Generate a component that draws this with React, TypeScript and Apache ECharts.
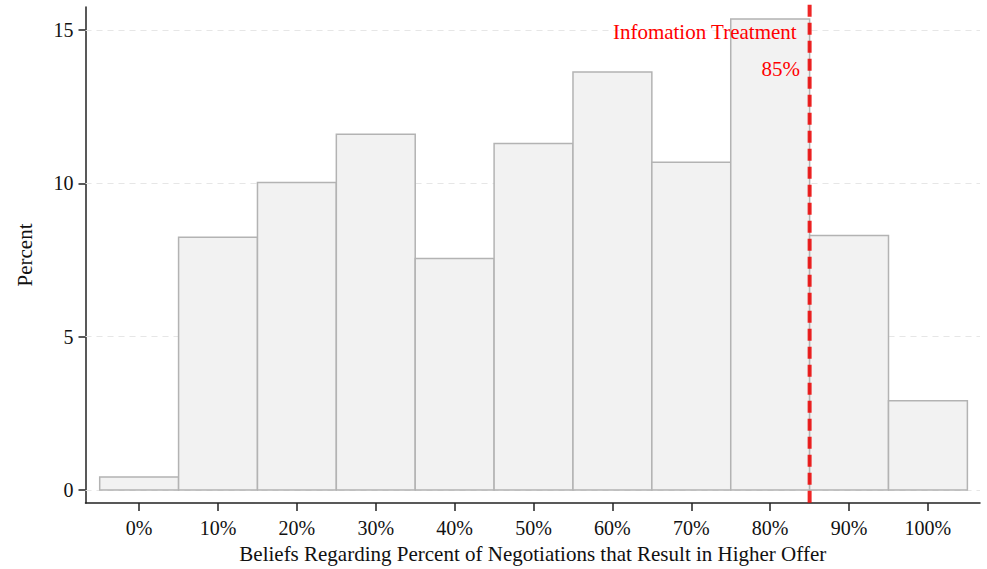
import React, { useEffect, useRef } from "react";
import * as echarts from "echarts";

const categories = [0, 10, 20, 30, 40, 50, 60, 70, 80, 90, 100];
const percents = [0.42, 8.24, 10.03, 11.6, 7.55, 11.3, 13.63, 10.69, 15.36, 8.3, 2.91];
const yTicks = [0, 5, 10, 15];
const treatmentValue = 85;
const treatmentLabel = "Infomation Treatment";
const treatmentValueLabel = "85%";
const binHalfWidth = 5;

const FONT = "Liberation Serif";

export default function App() {
  const ref = useRef<HTMLDivElement>(null);
  useEffect(() => {
    if (!ref.current) return;
    const chart = echarts.init(ref.current, undefined, { renderer: "svg" });
    const data = categories.map((c, i) => [c, percents[i]]);
    chart.setOption({
      animation: false,
      textStyle: { fontFamily: FONT },
      grid: { left: 85.5, right: 7, top: 7, bottom: 66, containLabel: false },
      xAxis: {
        type: "value",
        min: -6.8,
        max: 106.6,
        name: "Beliefs Regarding Percent of Negotiations that Result in Higher Offer",
        nameLocation: "middle",
        nameGap: 40,
        nameTextStyle: { fontFamily: FONT, fontSize: 21, color: "#111", verticalAlign: "top" },
        axisLine: { show: true, onZero: false, lineStyle: { color: "#222", width: 1.5 } },
        axisTick: { show: true, length: 8, customValues: categories, lineStyle: { color: "#222", width: 1.5 } },
        axisLabel: {
          customValues: categories,
          formatter: (v: number) => `${v}%`,
          fontFamily: FONT,
          fontSize: 20,
          color: "#111",
          margin: 15,
        },
        splitLine: { show: false },
      },
      yAxis: {
        type: "value",
        min: -0.425,
        max: 15.75,
        name: "Percent",
        nameLocation: "middle",
        nameGap: 50,
        nameTextStyle: { fontFamily: FONT, fontSize: 21, color: "#111" },
        axisLine: { show: true, onZero: false, lineStyle: { color: "#222", width: 1.5 } },
        axisTick: { show: true, length: 7, customValues: yTicks, lineStyle: { color: "#222", width: 1.5 } },
        axisLabel: {
          customValues: yTicks,
          fontFamily: FONT,
          fontSize: 20,
          color: "#111",
          margin: 12,
        },
        splitLine: { show: false },
      },
      series: [
        {
          type: "custom",
          z: 2,
          data,
          renderItem: (params: any, api: any) => {
            const x = api.value(0);
            const y = api.value(1);
            const p0 = api.coord([x - binHalfWidth, 0]);
            const p1 = api.coord([x + binHalfWidth, y]);
            return {
              type: "rect",
              shape: { x: p0[0], y: p1[1], width: p1[0] - p0[0], height: p0[1] - p1[1] },
              style: { fill: "#f2f2f2", stroke: "#b3b3b3", lineWidth: 1.5 },
            };
          },
          markLine: {
            silent: true,
            symbol: "none",
            z: 1,
            label: { show: false },
            lineStyle: { color: "#e6e6e6", type: [6, 5], width: 1.2 },
            data: yTicks.map((t) => ({ yAxis: t })),
          },
        },
        {
          type: "line",
          z: 5,
          symbol: "none",
          silent: true,
          clip: false,
          data: [
            [treatmentValue, 15.82],
            [treatmentValue, -0.425],
          ],
          lineStyle: { color: "rgba(235,0,0,0.85)", type: [12, 6], width: 4 },
        },
      ],
      graphic: [
        {
          type: "text",
          right: 987 - 797,
          top: 21,
          z: 10,
          style: { text: treatmentLabel, fill: "#ff0000", font: `21px '${FONT}'` },
        },
        {
          type: "text",
          right: 987 - 800,
          top: 58,
          z: 10,
          style: { text: treatmentValueLabel, fill: "#ff0000", font: `21px '${FONT}'` },
        },
      ],
    });
    return () => chart.dispose();
  }, []);
  return <div ref={ref} style={{ width: 987, height: 569, position: "absolute", left: 0, top: 0 }} />;
}
